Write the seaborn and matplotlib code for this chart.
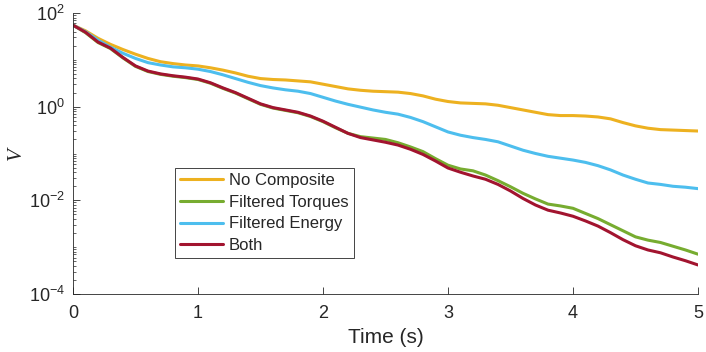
import numpy as np
import pandas as pd
import matplotlib
matplotlib.use("Agg")
import matplotlib.pyplot as plt
import matplotlib.ticker as mticker
import seaborn as sns

# ------------------------------------------------------------------
# Data (read off the reference, log10 of V, sampled every 0.1 s)
# ------------------------------------------------------------------
time_s = [round(0.1 * i, 1) for i in range(51)]

log_v_none = [1.74, 1.62, 1.46, 1.33, 1.22, 1.12, 1.03, 0.96, 0.92, 0.89,
              0.87, 0.83, 0.78, 0.72, 0.65, 0.60, 0.58, 0.57, 0.55, 0.53,
              0.48, 0.43, 0.38, 0.35, 0.33, 0.32, 0.31, 0.28, 0.23, 0.16,
              0.11, 0.08, 0.07, 0.06, 0.03, -0.02, -0.07, -0.12, -0.17, -0.19,
              -0.19, -0.20, -0.22, -0.26, -0.34, -0.41, -0.46, -0.49, -0.50, -0.51,
              -0.52]

log_v_torques = [1.74, 1.58, 1.37, 1.24, 1.04, 0.86, 0.75, 0.69, 0.65, 0.62,
                 0.58, 0.50, 0.39, 0.29, 0.17, 0.05, -0.03, -0.08, -0.13, -0.21,
                 -0.32, -0.45, -0.57, -0.64, -0.67, -0.70, -0.77, -0.86, -0.96, -1.11,
                 -1.25, -1.33, -1.37, -1.46, -1.58, -1.71, -1.85, -1.97, -2.08, -2.12,
                 -2.17, -2.28, -2.39, -2.52, -2.65, -2.78, -2.85, -2.90, -2.98, -3.06,
                 -3.15]

log_v_energy = [1.74, 1.60, 1.42, 1.27, 1.14, 1.03, 0.94, 0.89, 0.85, 0.83,
                0.80, 0.75, 0.68, 0.60, 0.52, 0.45, 0.40, 0.36, 0.33, 0.28,
                0.20, 0.12, 0.05, -0.01, -0.07, -0.12, -0.16, -0.23, -0.32, -0.43,
                -0.54, -0.61, -0.66, -0.70, -0.75, -0.84, -0.93, -1.00, -1.06, -1.10,
                -1.14, -1.19, -1.26, -1.35, -1.46, -1.55, -1.63, -1.66, -1.70, -1.72,
                -1.75]

log_v_both = [1.74, 1.59, 1.38, 1.25, 1.05, 0.87, 0.76, 0.70, 0.66, 0.63,
              0.59, 0.51, 0.40, 0.30, 0.18, 0.06, -0.02, -0.07, -0.12, -0.20,
              -0.31, -0.44, -0.57, -0.66, -0.71, -0.76, -0.82, -0.91, -1.02, -1.16,
              -1.31, -1.40, -1.48, -1.55, -1.66, -1.80, -1.96, -2.10, -2.21, -2.27,
              -2.34, -2.44, -2.55, -2.69, -2.84, -2.97, -3.06, -3.12, -3.21, -3.29,
              -3.38]

labels = ["No Composite", "Filtered Torques", "Filtered Energy", "Both"]
colors = ["#EDB120", "#77AC30", "#4DBEEE", "#A2142F"]

series = dict(zip(labels, [log_v_none, log_v_torques, log_v_energy, log_v_both]))
df = pd.concat(
    [pd.DataFrame({"t": time_s, "V": 10.0 ** np.array(v), "case": k}) for k, v in series.items()],
    ignore_index=True,
)

# ------------------------------------------------------------------
# Style
# ------------------------------------------------------------------
sns.set_theme(style="white")
plt.rcParams.update({
    "font.family": ["Liberation Sans", "DejaVu Sans"],
    "mathtext.fontset": "custom",
    "mathtext.rm": "Liberation Sans",
    "axes.edgecolor": "#262626",
    "axes.linewidth": 0.6,
    "xtick.color": "#262626",
    "ytick.color": "#262626",
})

fig = plt.figure(figsize=(7.06, 3.52), dpi=100)
ax = fig.add_axes([73 / 706, 58 / 352, 625 / 706, 281 / 352])

sns.lineplot(data=df, x="t", y="V", hue="case", hue_order=labels,
             palette=dict(zip(labels, colors)), linewidth=2.2, ax=ax,
             estimator=None, sort=False)

ax.set_yscale("log")
ax.set_xlim(0, 5)
ax.set_ylim(1e-4, 1e2)
ax.set_xticks([0, 1, 2, 3, 4, 5])
ax.yaxis.set_major_locator(mticker.FixedLocator([1e-4, 1e-2, 1e0, 1e2]))
ax.yaxis.set_major_formatter(mticker.LogFormatterSciNotation())
ax.yaxis.set_minor_locator(mticker.LogLocator(base=10, subs=np.arange(1, 10), numticks=20))
ax.yaxis.set_minor_formatter(mticker.NullFormatter())

ax.tick_params(axis="both", which="major", direction="in", length=5, width=0.6,
               labelsize=13, pad=6)
ax.tick_params(axis="x", which="major", pad=8)
ax.tick_params(axis="y", which="minor", direction="in", length=2.5, width=0.5, left=True)
ax.tick_params(axis="x", which="both", bottom=True)
ax.tick_params(axis="y", which="both", left=True)

for side in ["top", "right"]:
    ax.spines[side].set_visible(False)

ax.set_xlabel("Time (s)", fontsize=15, color="#262626", labelpad=4)
ax.set_ylabel("V", fontsize=15, color="#262626", family="Liberation Serif",
              style="italic", labelpad=2)

leg = ax.legend(loc="upper left", bbox_to_anchor=(0.163, 0.448), fontsize=12,
                frameon=True, fancybox=False, edgecolor="#262626", framealpha=1,
                handlelength=2.6, handletextpad=0.35, borderpad=0.3,
                labelspacing=0.4, borderaxespad=0)
leg.get_frame().set_linewidth(0.6)
for line in leg.get_lines():
    line.set_linewidth(2.2)

fig.savefig("out.png", dpi=100)
